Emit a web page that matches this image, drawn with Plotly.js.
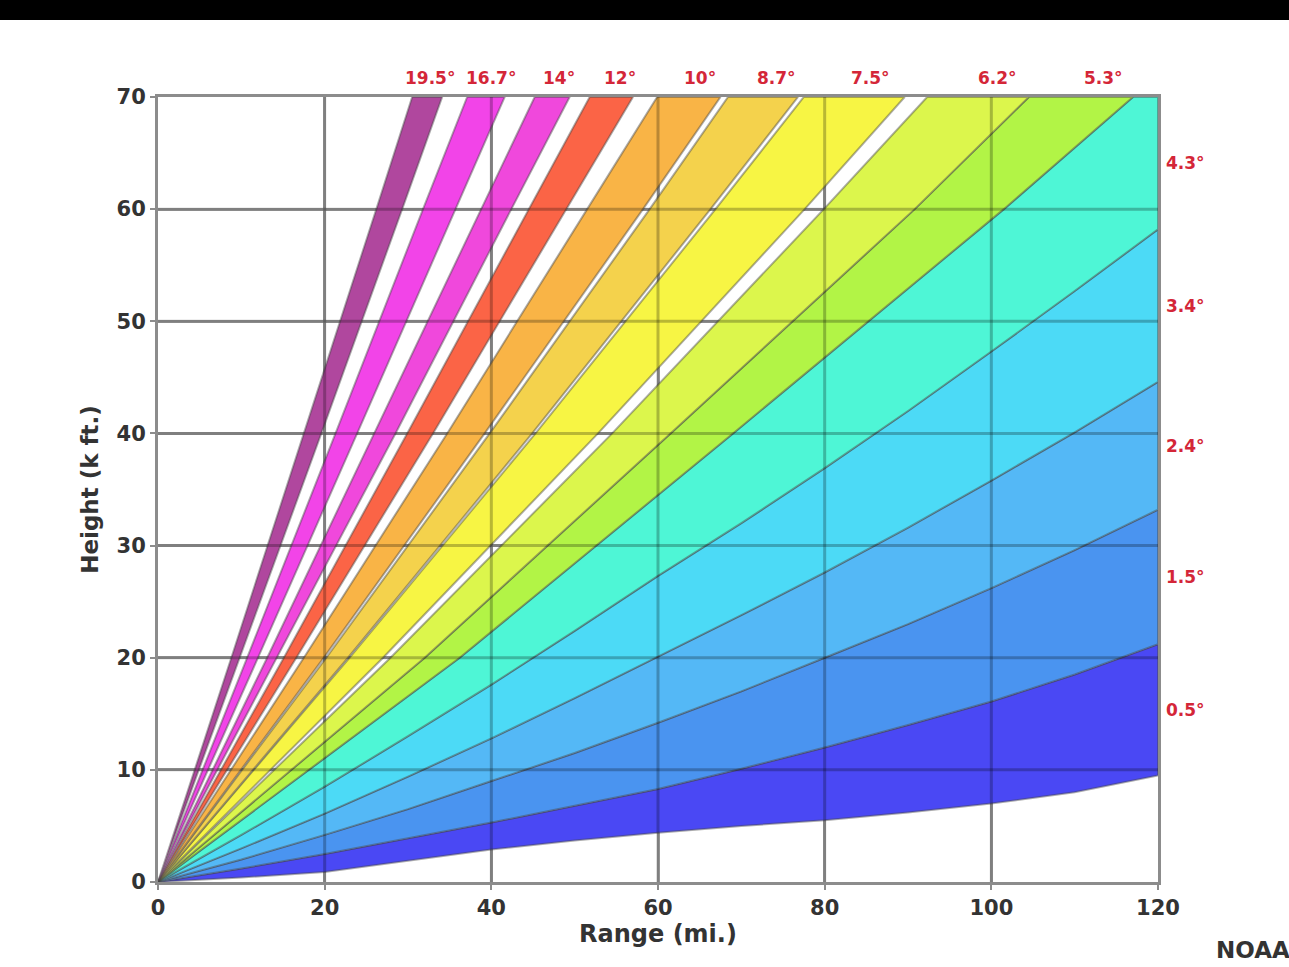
<!DOCTYPE html>
<html>
<head>
<meta charset="utf-8">
<script src="https://cdn.plot.ly/plotly-3.0.1.min.js"></script>
<style>
  html, body { margin: 0; padding: 0; background: #ffffff; }
  #chart { width: 1289px; height: 967px; }
</style>
</head>
<body>
<div id="chart"></div>
<script>
// ---- Data ----
// Shallow beam edges: height (k ft) at each range (mi) of rangeGrid
const rangeGrid = [0, 10, 20, 30, 40, 50, 60, 70, 80, 90, 100, 110, 120];
const edgeBaseH = [0, 0.4, 0.9, 1.9, 2.9, 3.7, 4.4, 5.0, 5.5, 6.2, 7.0, 8.0, 9.5];
const edgeA_H   = [0, 1.2, 2.5, 3.9, 5.3, 6.8, 8.3, 10.1, 12.0, 14.0, 16.1, 18.5, 21.2];
const edgeB_H   = [0, 2.0, 4.2, 6.5, 9.0, 11.5, 14.2, 17.0, 20.0, 23.0, 26.2, 29.6, 33.2];
const edgeC_H   = [0, 3.0, 6.1, 9.4, 12.8, 16.4, 20.1, 23.8, 27.6, 31.6, 35.8, 40.1, 44.6];
const edgeD_H   = [0, 4.2, 8.5, 13.0, 17.6, 22.4, 27.3, 32.0, 36.9, 42.0, 47.3, 52.7, 58.2];

// Steep beam edges: range (mi) at each height (k ft) of heightGrid
const heightGrid = [0, 20, 40, 60, 70];
const edgeE_R    = [0, 36.2, 69.0, 101.5, 117.0];
const edgeF_R    = [0, 32.0, 61.5, 90.8, 104.5];
const b62_up_R   = [0, 27.9, 54.5, 79.9, 92.3];
const b75_lo_R   = [0, 27.0, 52.8, 77.6, 89.6];
const b75_up_R   = [0, 23.0, 45.3, 66.9, 77.5];
const b87_lo_R   = [0, 22.8, 44.9, 66.3, 76.8];
const b87_up_R   = [0, 20.2, 39.8, 59.0, 68.4];
const b10_lo_R   = [0, 19.9, 39.2, 58.2, 67.5];
const b10_up_R   = [0, 17.5, 34.7, 51.5, 59.9];
const b12_lo_R   = [0, 16.6, 33.0, 49.0, 57.0];
const b12_up_R   = [0, 15.1, 29.9, 44.5, 51.8];
const b14_lo_R   = [0, 14.3, 28.5, 42.4, 49.4];
const b14_up_R   = [0, 13.1, 26.0, 38.8, 45.2];
const b167_lo_R  = [0, 12.0, 23.9, 35.7, 41.6];
const b167_up_R  = [0, 10.7, 21.3, 31.8, 37.1];
const b195_lo_R  = [0, 9.8, 19.6, 29.3, 34.1];
const b195_up_R  = [0, 8.8, 17.5, 26.2, 30.5];

// Beam labels and colours (low to high elevation)
const beamLabels = ['0.5°', '1.5°', '2.4°', '3.4°', '4.3°', '5.3°', '6.2°', '7.5°', '8.7°', '10°', '12°', '14°', '16.7°', '19.5°'];
const beamColors = ['#4a48f4', '#4a94f0', '#54b8f6', '#4cdaf6', '#4ef6d6', '#b2f446', '#dcf64c', '#f7f544', '#f4d24c', '#f9b446', '#fb6446', '#f048dc', '#f244e8', '#b0479e'];

const xTicks = [0, 20, 40, 60, 80, 100, 120];
const yTicks = [0, 10, 20, 30, 40, 50, 60, 70];

// ---- Build geometry ----
const xMax = xTicks[xTicks.length - 1];
const yMax = yTicks[yTicks.length - 1];
const shallow = h => ({ x: rangeGrid.slice(), y: h.slice() });
const steep = r => ({ x: r.slice(), y: heightGrid.slice() });

const edges = [
  shallow(edgeBaseH), shallow(edgeA_H), shallow(edgeB_H), shallow(edgeC_H), shallow(edgeD_H),
  steep(edgeE_R), steep(edgeF_R)
];
const beamEdges = [
  [edges[0], edges[1]],
  [edges[1], edges[2]],
  [edges[2], edges[3]],
  [edges[3], edges[4]],
  [edges[4], edges[5]],
  [edges[5], edges[6]],
  [edges[6], steep(b62_up_R)],
  [steep(b75_lo_R), steep(b75_up_R)],
  [steep(b87_lo_R), steep(b87_up_R)],
  [steep(b10_lo_R), steep(b10_up_R)],
  [steep(b12_lo_R), steep(b12_up_R)],
  [steep(b14_lo_R), steep(b14_up_R)],
  [steep(b167_lo_R), steep(b167_up_R)],
  [steep(b195_lo_R), steep(b195_up_R)]
];

function polygon(lo, up) {
  const x = lo.x.slice(), y = lo.y.slice();
  const lx = lo.x[lo.x.length - 1], ly = lo.y[lo.y.length - 1];
  const ux = up.x[up.x.length - 1], uy = up.y[up.y.length - 1];
  if (lx >= xMax && ly < yMax && uy >= yMax && ux < xMax) { x.push(xMax); y.push(yMax); }
  for (let i = up.x.length - 1; i >= 0; i--) { x.push(up.x[i]); y.push(up.y[i]); }
  return { x, y };
}

const traces = beamEdges.map((pair, i) => {
  const p = polygon(pair[0], pair[1]);
  return {
    type: 'scatter', mode: 'lines', x: p.x, y: p.y, fill: 'toself',
    fillcolor: beamColors[i], line: { color: 'rgba(70,70,70,0.45)', width: 2 },
    name: beamLabels[i], hoverinfo: 'name', showlegend: false
  };
});

// ---- Annotations: beam labels ----
const labelFont = { family: 'DejaVu Sans', size: 17, color: '#d42638', weight: 'bold' };
const annotations = [];
for (let i = 0; i < 5; i++) {
  const lo = beamEdges[i][0], up = beamEdges[i][1];
  const yl = lo.y[lo.y.length - 1];
  const yu = up.x[up.x.length - 1] >= xMax ? up.y[up.y.length - 1] : yMax;
  annotations.push({ x: xMax, y: (yl + yu) / 2, xref: 'x', yref: 'y', text: beamLabels[i],
    showarrow: false, xanchor: 'left', yanchor: 'middle', xshift: 6, font: labelFont });
}
for (let i = 5; i < beamEdges.length; i++) {
  const lo = beamEdges[i][0], up = beamEdges[i][1];
  const xm = (lo.x[lo.x.length - 1] + up.x[up.x.length - 1]) / 2;
  annotations.push({ x: xm, y: yMax, xref: 'x', yref: 'y', text: beamLabels[i],
    showarrow: false, xanchor: 'center', yanchor: 'bottom', xshift: 10 + (xm - 60) * 0.25, yshift: 7, font: labelFont });
}
annotations.push({ x: 1.134, y: -0.087, xref: 'paper', yref: 'paper', text: 'NOAA', showarrow: false,
  xanchor: 'right', yanchor: 'middle', font: { family: 'DejaVu Sans', size: 23, color: '#333333', weight: 'bold' } });

// ---- Grid overlay (tint above the coloured beams) + black top strip ----
const shapes = [];
xTicks.slice(1, -1).forEach(v => shapes.push({ type: 'line', xref: 'x', yref: 'y', x0: v, x1: v, y0: 0, y1: yMax,
  layer: 'above', line: { color: 'rgba(0,0,0,0.25)', width: 3 } }));
yTicks.slice(1, -1).forEach(v => shapes.push({ type: 'line', xref: 'x', yref: 'y', x0: 0, x1: xMax, y0: v, y1: v,
  layer: 'above', line: { color: 'rgba(0,0,0,0.25)', width: 3 } }));

const W = 1289, H = 967, M = { l: 158, r: 131, t: 97, b: 85 };
const pw = W - M.l - M.r, ph = H - M.t - M.b;
shapes.push({ type: 'rect', xref: 'paper', yref: 'paper', x0: -M.l / pw, x1: (W - M.l) / pw,
  y0: (H - M.b - 20) / ph, y1: (H - M.b) / ph + 0.01, fillcolor: '#000000', line: { width: 0 }, layer: 'above' });

const tickFont = { family: 'DejaVu Sans', size: 21, color: '#333333', weight: 'bold' };
const layout = {
  width: W, height: H,
  margin: M,
  paper_bgcolor: '#ffffff', plot_bgcolor: '#ffffff',
  showlegend: false,
  xaxis: {
    range: [0, xMax], tickvals: xTicks, ticktext: xTicks.map(String), tickfont: tickFont,
    showgrid: true, gridcolor: '#aaaaaa', gridwidth: 3, zeroline: false,
    showline: true, linecolor: '#8c8c8c', linewidth: 3, mirror: true,
    ticks: 'outside', ticklen: 5, tickwidth: 2, tickcolor: '#8c8c8c',
    title: { text: 'Range (mi.)', font: { family: 'DejaVu Sans', size: 24, color: '#333333', weight: 'bold' }, standoff: 6 }
  },
  yaxis: {
    range: [0, yMax], tickvals: yTicks, ticktext: yTicks.map(String), tickfont: tickFont,
    showgrid: true, gridcolor: '#aaaaaa', gridwidth: 3, zeroline: false,
    showline: true, linecolor: '#8c8c8c', linewidth: 3, mirror: true,
    ticks: 'outside', ticklen: 5, tickwidth: 2, tickcolor: '#8c8c8c',
    title: { text: 'Height (k ft.)', font: { family: 'DejaVu Sans', size: 23, color: '#333333', weight: 'bold' }, standoff: 12 }
  },
  shapes: shapes,
  annotations: annotations
};

Plotly.newPlot('chart', traces, layout, { displayModeBar: false, staticPlot: true });
</script>
</body>
</html>
